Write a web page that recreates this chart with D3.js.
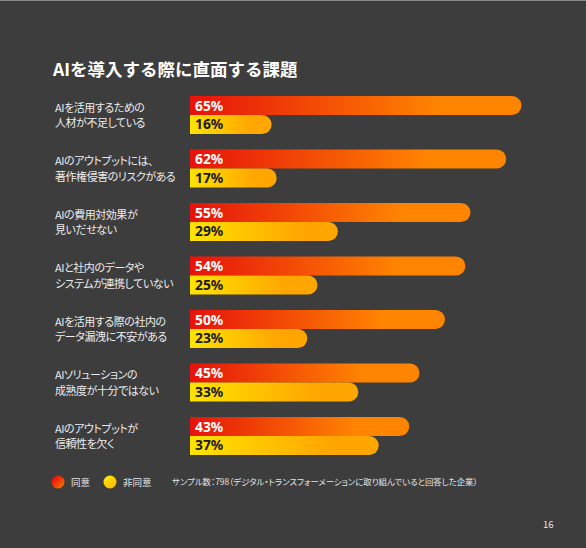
<!DOCTYPE html>
<html>
<head>
<meta charset="utf-8">
<script src="https://cdnjs.cloudflare.com/ajax/libs/d3/7.8.5/d3.min.js"></script>
<style>
  html, body { margin: 0; padding: 0; background: #3d3d3d; }
  svg { display: block; }
  text { font-family: "Noto Sans CJK JP", "Noto Sans", sans-serif; }
  .palt { font-feature-settings: "palt" 1; }
</style>
</head>
<body>
<div id="chart"></div>
<script>
'use strict';

var categories = [
    ['AIを活用するための', '人材が不足している'],
    ['AIのアウトプットには、', '著作権侵害のリスクがある'],
    ['AIの費用対効果が', '見いだせない'],
    ['AIと社内のデータや', 'システムが連携していない'],
    ['AIを活用する際の社内の', 'データ漏洩に不安がある'],
    ['AIソリューションの', '成熟度が十分ではない'],
    ['AIのアウトプットが', '信頼性を欠く']
];
var agree = [65, 62, 55, 54, 50, 45, 43];
var disagree = [16, 17, 29, 25, 23, 33, 37];
var seriesNames = ['同意', '非同意'];

var title = 'AIを導入する際に直面する課題';
var note = 'サンプル数：798（デジタル・トランスフォーメーションに取り組んでいると回答した企業）';
var pageNo = '16';

var width = 586, height = 548;
var barLeft = 190;

var svg = d3.select('#chart').append('svg')
    .attr('width', width)
    .attr('height', height);

svg.append('rect')
    .attr('width', width)
    .attr('height', height)
    .attr('fill', '#3d3d3d');
svg.append('rect')
    .attr('width', width)
    .attr('height', 1)
    .attr('fill', '#8a8a8a');

var defs = svg.append('defs');
var gradients = [
    {id: 'grad-agree', from: '#e6120b', to: '#ff8400'},
    {id: 'grad-disagree', from: '#ffe400', to: '#ffa600'}
];
gradients.forEach(function (g) {
    var lg = defs.append('linearGradient')
        .attr('id', g.id)
        .attr('x1', '0%').attr('x2', '100%')
        .attr('y1', '0%').attr('y2', '0%');
    lg.append('stop').attr('offset', '0%').attr('stop-color', g.from);
    lg.append('stop').attr('offset', '75%').attr('stop-color', g.to);
});
var circleGrads = [
    {id: 'dot-agree', from: '#e6120b', to: '#ff8400'},
    {id: 'dot-disagree', from: '#ffe400', to: '#ffb000'}
];
circleGrads.forEach(function (g) {
    var lg = defs.append('linearGradient')
        .attr('id', g.id)
        .attr('x1', '0%').attr('x2', '100%')
        .attr('y1', '0%').attr('y2', '100%');
    lg.append('stop').attr('offset', '20%').attr('stop-color', g.from);
    lg.append('stop').attr('offset', '100%').attr('stop-color', g.to);
});

var x = d3.scaleLinear()
    .domain([0, 100])
    .range([barLeft, barLeft + 510]);

var y = d3.scaleBand()
    .domain(d3.range(categories.length))
    .range([96, 455])
    .paddingInner(0.29)
    .paddingOuter(0);

var sub = d3.scaleBand()
    .domain([0, 1])
    .range([0, y.bandwidth()]);

// square left end, rounded right end
var barPath = function (x0, x1, y0, h) {
    var r = h / 2;
    var xs = Math.max(x0, x1 - r);
    return 'M' + x0 + ',' + y0 +
        'H' + xs +
        'A' + r + ',' + r + ' 0 0 1 ' + xs + ',' + (y0 + h) +
        'H' + x0 + 'Z';
};

// title
svg.append('text')
    .attr('x', 53)
    .attr('y', 76)
    .attr('fill', '#ffffff')
    .attr('font-size', '17.5px')
    .attr('font-weight', 'bold')
    .text(title);

var rows = categories.map(function (c, i) {
    return {label: c, values: [agree[i], disagree[i]]};
});

var groups = svg.selectAll('g.row')
    .data(rows)
    .enter()
    .append('g')
    .attr('class', 'row')
    .attr('transform', function (d, i) {
        return 'translate(0,' + y(i) + ')';
    });

// category labels
groups.append('text')
    .attr('class', 'cat palt')
    .attr('x', 55)
    .attr('fill', '#ececec')
    .attr('font-size', '11px')
    .attr('letter-spacing', '-0.45px')
    .selectAll('tspan')
    .data(function (d) { return d.label; })
    .enter()
    .append('tspan')
    .attr('x', 55)
    .attr('y', function (d, j) {
        return y.bandwidth() / 2 - 3 + j * 15.5;
    })
    .text(function (d) { return d; });

// bars
groups.selectAll('path.bar')
    .data(function (d) { return d.values; })
    .enter()
    .append('path')
    .attr('class', 'bar')
    .attr('fill', function (d, j) { return 'url(#' + gradients[j].id + ')'; })
    .attr('d', function (d, j) {
        return barPath(x(0), x(d), sub(j), sub.bandwidth());
    });

// value labels
groups.selectAll('text.val')
    .data(function (d) { return d.values; })
    .enter()
    .append('text')
    .attr('class', 'val')
    .attr('x', x(0) + 5)
    .attr('y', function (d, j) { return sub(j) + sub.bandwidth() / 2 + 5; })
    .attr('fill', function (d, j) { return j === 0 ? '#ffffff' : '#1a1a1a'; })
    .attr('font-size', '13.8px')
    .attr('font-weight', 'bold')
    .style('font-family', '"Noto Sans", sans-serif')
    .text(function (d) { return d + '%'; });

// legend
var legendX = [58, 110];
var legend = svg.selectAll('g.legend')
    .data(seriesNames)
    .enter()
    .append('g')
    .attr('class', 'legend')
    .attr('transform', function (d, i) {
        return 'translate(' + legendX[i] + ',482)';
    });
legend.append('circle')
    .attr('r', 6.5)
    .attr('fill', function (d, i) { return 'url(#' + circleGrads[i].id + ')'; });
legend.append('text')
    .attr('class', 'palt')
    .attr('x', 13)
    .attr('y', 3.5)
    .attr('fill', '#e6e6e6')
    .attr('font-size', '9.5px')
    .text(function (d) { return d; });

svg.append('text')
    .attr('class', 'palt')
    .attr('x', 172)
    .attr('y', 485)
    .attr('fill', '#e6e6e6')
    .attr('font-size', '8.4px')
    .text(note);

svg.append('text')
    .attr('x', 543)
    .attr('y', 528)
    .attr('fill', '#e6e6e6')
    .attr('font-size', '9.5px')
    .text(pageNo);
</script>
</body>
</html>
